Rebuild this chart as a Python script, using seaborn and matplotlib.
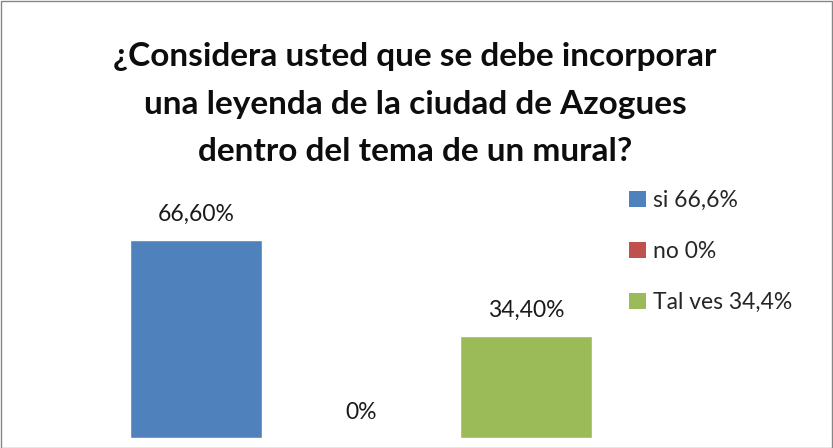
import matplotlib
matplotlib.use("Agg")
import matplotlib.pyplot as plt
import seaborn as sns
import pandas as pd
from matplotlib.patches import Patch, Rectangle

categories = ["si", "no", "Tal ves"]
values = [66.6, 0.0, 34.4]
value_labels = ["66,60%", "0%", "34,40%"]
legend_labels = ["si 66,6%", "no 0%", "Tal ves 34,4%"]
colors = ["#4F81BD", "#C0504D", "#9BBB59"]
title = "¿Considera usted que se debe incorporar\nuna leyenda de la ciudad de Azogues\ndentro del tema de un mural?"

sns.set_theme(style="white")
plt.rcParams['font.family'] = ['Lato', 'DejaVu Sans']

W, H = 833, 448
fig = plt.figure(figsize=(W/100, H/100), dpi=100)
fig.patch.set_facecolor("white")
fig.add_artist(Rectangle((0.5/W, 0.5/H), (W-1.5)/W, (H-1.5)/H, transform=fig.transFigure,
                         fill=False, edgecolor="#868686", linewidth=1.0))

left, right = 113.5, 608.5
top, bottom = 200, 438
ax = fig.add_axes([left/W, (H-bottom)/H, (right-left)/W, (bottom-top)/H])

df = pd.DataFrame({"cat": categories, "val": values})
sns.barplot(data=df, x="cat", y="val", hue="cat", palette=colors, width=0.8,
            legend=False, ax=ax, saturation=1)
ax.set_ylim(0, 80)
ax.set_xlim(-0.5, 2.5)
for c, lab in zip(ax.containers, value_labels):
    ax.bar_label(c, labels=[lab], padding=11, fontsize=16.5, color="#1a1a1a")
ax.set_axis_off()

fig.text(415/W, 1-42/H, title, ha="center", va="top", fontsize=24, fontweight="bold",
         linespacing=1.78, color="#0d0d0d")

handles = [Patch(facecolor=c, edgecolor="none") for c in colors]
fig.legend(handles, legend_labels, loc="upper left", bbox_to_anchor=(620/W, 1-181/H),
           frameon=False, fontsize=16.5, handlelength=0.72, handleheight=0.72,
           handletextpad=0.3, labelspacing=1.3, borderaxespad=0)

fig.savefig("out.png", dpi=100)
